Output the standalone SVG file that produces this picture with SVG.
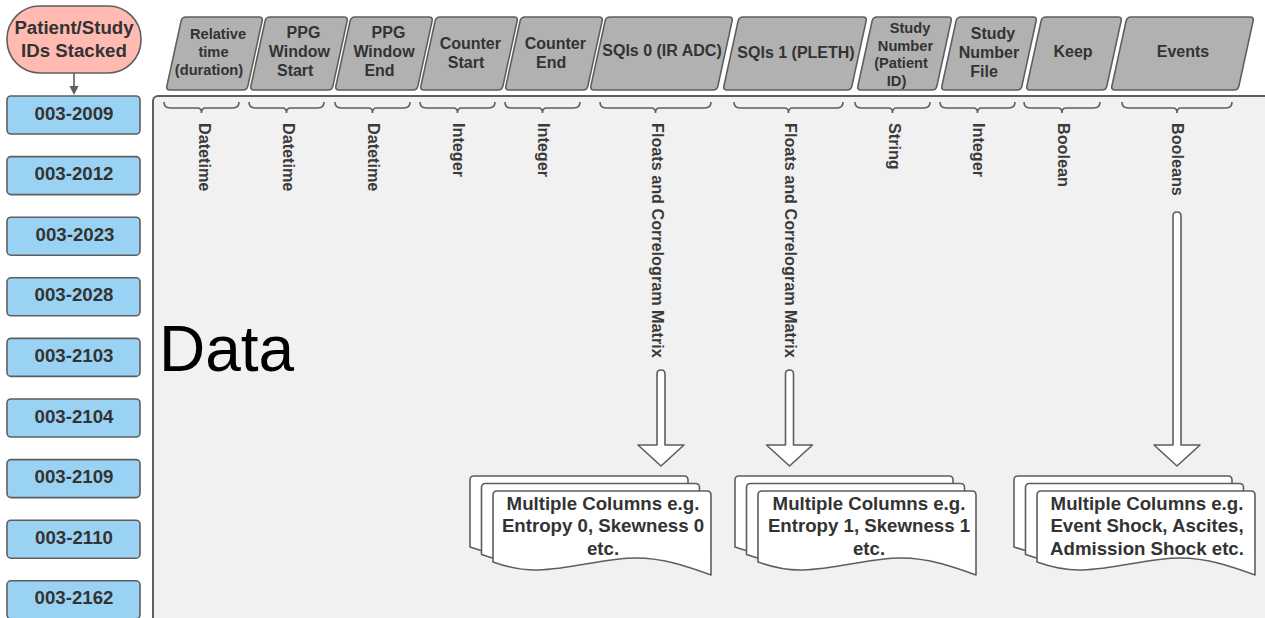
<svg xmlns="http://www.w3.org/2000/svg" width="1265" height="618" viewBox="0 0 1265 618">
<style>
text{font-family:"Liberation Sans",Arial,sans-serif;fill:#333333;font-weight:bold}
.hdr{fill:#b1b1b1;stroke:#5e5e5e;stroke-width:1.6}
.h16{font-size:16px;text-anchor:middle}
.h15{font-size:14.67px;text-anchor:middle}
.id{fill:#9ad2f4;stroke:#5e5e5e;stroke-width:1.6}
.idt{font-size:18.67px;text-anchor:middle}
.brace{fill:none;stroke:#5e5e5e;stroke-width:1.6}
.vl{font-size:16.2px;fill:#3a3a3a}
.blk{fill:#ffffff;stroke:#5e5e5e;stroke-width:1.6;stroke-linejoin:round}
.doc{fill:#ffffff;stroke:#5e5e5e;stroke-width:1.6;stroke-linejoin:round}
.dt{font-size:18.67px;text-anchor:middle}
</style>
<defs>
<path id="page" d="M0,4 Q0,0 4,0 H214 Q218,0 218,4 V84 C196,76 171,67 143,67 C111,67 80,78 45,79 C28,79.5 14,76 0,71 Z"/>
</defs>

<g id="data-panel">
<rect x="153" y="96" width="1130" height="540" rx="5" fill="#f1f1f1" stroke="#5e5e5e" stroke-width="2"/>
<text x="159" y="371" style="font-size:64px;font-weight:normal;fill:#000000">Data</text>
</g>

<g id="patient-ids">
<rect x="7" y="6" width="134" height="67" rx="33" fill="#ffbbb1" stroke="#5e5e5e" stroke-width="1.6"/>
<text class="idt" x="74" y="33.7">Patient/Study</text>
<text class="idt" x="74" y="56.7">IDs Stacked</text>
</g>

<g id="id-003-2009"><rect class="id" x="7" y="96" width="133" height="38" rx="4"/><text class="idt" x="74" y="119.5">003-2009</text></g>
<g id="id-003-2012"><rect class="id" x="7" y="156.6" width="133" height="38" rx="4"/><text class="idt" x="74" y="180.1">003-2012</text></g>
<g id="id-003-2023"><rect class="id" x="7" y="217.2" width="133" height="38" rx="4"/><text class="idt" x="75" y="240.7">003-2023</text></g>
<g id="id-003-2028"><rect class="id" x="7" y="277.8" width="133" height="38" rx="4"/><text class="idt" x="74" y="301.3">003-2028</text></g>
<g id="id-003-2103"><rect class="id" x="7" y="338.4" width="133" height="38" rx="4"/><text class="idt" x="74" y="361.9">003-2103</text></g>
<g id="id-003-2104"><rect class="id" x="7" y="399" width="133" height="38" rx="4"/><text class="idt" x="74" y="422.5">003-2104</text></g>
<g id="id-003-2109"><rect class="id" x="7" y="459.6" width="133" height="38" rx="4"/><text class="idt" x="74" y="483.1">003-2109</text></g>
<g id="id-003-2110"><rect class="id" x="7" y="520.2" width="133" height="38" rx="4"/><text class="idt" x="74" y="543.7">003-2110</text></g>
<g id="id-003-2162"><rect class="id" x="7" y="580.8" width="133" height="38" rx="4"/><text class="idt" x="74" y="604.3">003-2162</text></g>

<g id="hdr-relative-time">
<path class="hdr" d="M186,17 H259 Q263,17 262.14,20.91 L247.86,86.09 Q247,90 243,90 H170 Q166,90 166.86,86.09 L181.14,20.91 Q182,17 186,17 Z"/>
<text class="h15" x="218" y="39.3">Relative</text>
<text class="h15" x="213.5" y="57.3">time</text>
<text class="h15" x="209" y="75.3">(duration)</text>
</g>
<g id="hdr-ppg-start">
<path class="hdr" d="M270,17 H344 Q348,17 347.14,20.91 L332.86,86.09 Q332,90 328,90 H254 Q250,90 250.86,86.09 L265.14,20.91 Q266,17 270,17 Z"/>
<text class="h16" x="303.5" y="38">PPG</text>
<text class="h16" x="299.4" y="57.4">Window</text>
<text class="h16" x="295.2" y="76.4">Start</text>
</g>
<g id="hdr-ppg-end">
<path class="hdr" d="M355,17 H429 Q433,17 432.14,20.91 L417.86,86.09 Q417,90 413,90 H339 Q335,90 335.86,86.09 L350.14,20.91 Q351,17 355,17 Z"/>
<text class="h16" x="388.5" y="38">PPG</text>
<text class="h16" x="384" y="57.4">Window</text>
<text class="h16" x="379.5" y="76.4">End</text>
</g>
<g id="hdr-counter-start">
<path class="hdr" d="M440,17 H514 Q518,17 517.14,20.91 L502.86,86.09 Q502,90 498,90 H424 Q420,90 420.86,86.09 L435.14,20.91 Q436,17 440,17 Z"/>
<text class="h16" x="470.3" y="48.7">Counter</text>
<text class="h16" x="466.1" y="67.7">Start</text>
</g>
<g id="hdr-counter-end">
<path class="hdr" d="M525,17 H599 Q603,17 602.14,20.91 L587.86,86.09 Q587,90 583,90 H509 Q505,90 505.86,86.09 L520.14,20.91 Q521,17 525,17 Z"/>
<text class="h16" x="555.3" y="48.7">Counter</text>
<text class="h16" x="551.1" y="67.7">End</text>
</g>
<g id="hdr-sqis0">
<path class="hdr" d="M610,17 H729 Q733,17 732.14,20.91 L717.86,86.09 Q717,90 713,90 H594 Q590,90 590.86,86.09 L605.14,20.91 Q606,17 610,17 Z"/>
<text class="h16" x="662" y="55.7">SQIs 0 (IR ADC)</text>
</g>
<g id="hdr-sqis1">
<path class="hdr" d="M743,17 H863 Q867,17 866.14,20.91 L851.86,86.09 Q851,90 847,90 H727 Q723,90 723.86,86.09 L738.14,20.91 Q739,17 743,17 Z"/>
<text class="h16" x="796" y="57.7">SQIs 1 (PLETH)</text>
</g>
<g id="hdr-study-number">
<path class="hdr" d="M877,17 H948 Q952,17 951.14,20.91 L936.86,86.09 Q936,90 932,90 H861 Q857,90 857.86,86.09 L872.14,20.91 Q873,17 877,17 Z"/>
<text class="h15" x="910" y="33.3">Study</text>
<text class="h15" x="905.5" y="50.8">Number</text>
<text class="h15" x="901" y="68.3">(Patient</text>
<text class="h15" x="896.5" y="86.3">ID)</text>
</g>
<g id="hdr-study-number-file">
<path class="hdr" d="M961,17 H1033 Q1037,17 1036.14,20.91 L1021.86,86.09 Q1021,90 1017,90 H945 Q941,90 941.86,86.09 L956.14,20.91 Q957,17 961,17 Z"/>
<text class="h16" x="993" y="38.7">Study</text>
<text class="h16" x="989" y="57.7">Number</text>
<text class="h16" x="984" y="76.7">File</text>
</g>
<g id="hdr-keep">
<path class="hdr" d="M1046,17 H1118 Q1122,17 1121.14,20.91 L1106.86,86.09 Q1106,90 1102,90 H1030 Q1026,90 1026.86,86.09 L1041.14,20.91 Q1042,17 1046,17 Z"/>
<text class="h16" x="1073" y="56.7">Keep</text>
</g>
<g id="hdr-events">
<path class="hdr" d="M1131,17 H1250 Q1254,17 1253.14,20.91 L1238.86,86.09 Q1238,90 1234,90 H1115 Q1111,90 1111.86,86.09 L1126.14,20.91 Q1127,17 1131,17 Z"/>
<text class="h16" x="1183" y="56.7">Events</text>
</g>

<g id="braces">
<path class="brace" d="M164,102 Q164,108 170,108 H197.5 Q201.5,108 201.5,113 Q201.5,108 205.5,108 H233 Q239,108 239,102"/>
<path class="brace" d="M249,102 Q249,108 255,108 H282.5 Q286.5,108 286.5,113 Q286.5,108 290.5,108 H318 Q324,108 324,102"/>
<path class="brace" d="M335,102 Q335,108 341,108 H368.5 Q372.5,108 372.5,113 Q372.5,108 376.5,108 H404 Q410,108 410,102"/>
<path class="brace" d="M420,102 Q420,108 426,108 H453.5 Q457.5,108 457.5,113 Q457.5,108 461.5,108 H489 Q495,108 495,102"/>
<path class="brace" d="M505,102 Q505,108 511,108 H538.5 Q542.5,108 542.5,113 Q542.5,108 546.5,108 H574 Q580,108 580,102"/>
<path class="brace" d="M600,102 Q600,108 606,108 H651.5 Q655.5,108 655.5,113 Q655.5,108 659.5,108 H705 Q711,108 711,102"/>
<path class="brace" d="M734,102 Q734,108 740,108 H784.5 Q788.5,108 788.5,113 Q788.5,108 792.5,108 H837 Q843,108 843,102"/>
<path class="brace" d="M855,102 Q855,108 861,108 H888.5 Q892.5,108 892.5,113 Q892.5,108 896.5,108 H924 Q930,108 930,102"/>
<path class="brace" d="M940,102 Q940,108 946,108 H973.5 Q977.5,108 977.5,113 Q977.5,108 981.5,108 H1009 Q1015,108 1015,102"/>
<path class="brace" d="M1024,102 Q1024,108 1030,108 H1058 Q1062,108 1062,113 Q1062,108 1066,108 H1094 Q1100,108 1100,102"/>
<path class="brace" d="M1122,102 Q1122,108 1128,108 H1173 Q1177,108 1177,113 Q1177,108 1181,108 H1226 Q1232,108 1232,102"/>
</g>

<g id="type-labels">
<text class="vl" transform="translate(198.5,123) rotate(90)">Datetime</text>
<text class="vl" transform="translate(282.5,123) rotate(90)">Datetime</text>
<text class="vl" transform="translate(367.5,123) rotate(90)">Datetime</text>
<text class="vl" transform="translate(452.5,123) rotate(90)">Integer</text>
<text class="vl" transform="translate(537.5,123) rotate(90)">Integer</text>
<text class="vl" transform="translate(651.5,123) rotate(90)">Floats and Correlogram Matrix</text>
<text class="vl" transform="translate(784.5,123) rotate(90)">Floats and Correlogram Matrix</text>
<text class="vl" transform="translate(888.5,123) rotate(90)">String</text>
<text class="vl" transform="translate(973,123) rotate(90)">Integer</text>
<text class="vl" transform="translate(1057.5,123) rotate(90)">Boolean</text>
<text class="vl" transform="translate(1171.5,123) rotate(90)">Booleans</text>
</g>

<g id="doc-sqis0">
<use href="#page" class="doc" x="470" y="476"/>
<use href="#page" class="doc" x="481.5" y="483.5"/>
<use href="#page" class="doc" x="493" y="491"/>
<text class="dt" x="603" y="509.7">Multiple Columns e.g.</text>
<text class="dt" x="603" y="532.2">Entropy 0, Skewness 0</text>
<text class="dt" x="603" y="554.7">etc.</text>
</g>
<g id="doc-sqis1">
<use href="#page" class="doc" x="735" y="476"/>
<use href="#page" class="doc" x="746.5" y="483.5"/>
<use href="#page" class="doc" x="758" y="491"/>
<text class="dt" x="869" y="509.7">Multiple Columns e.g.</text>
<text class="dt" x="869" y="532.2">Entropy 1, Skewness 1</text>
<text class="dt" x="869" y="554.7">etc.</text>
</g>
<g id="doc-events">
<use href="#page" class="doc" x="1014" y="476"/>
<use href="#page" class="doc" x="1025.5" y="483.5"/>
<use href="#page" class="doc" x="1037" y="491"/>
<text class="dt" x="1147" y="509.7">Multiple Columns e.g.</text>
<text class="dt" x="1147" y="532.2">Event Shock, Ascites,</text>
<text class="dt" x="1147" y="554.7">Admission Shock etc.</text>
</g>

<g id="connectors">
<line x1="74" y1="73" x2="74" y2="87" stroke="#5e5e5e" stroke-width="1.6"/>
<polygon points="69.5,86 78.5,86 74,95" fill="#5e5e5e"/>
<path class="blk" d="M657,374 Q657,370 661,370 Q665,370 665,374 V445 H684 L661,466 L638,445 H657 Z"/>
<path class="blk" d="M785.5,374 Q785.5,370 789.5,370 Q793.5,370 793.5,374 V445 H812.5 L789.5,466 L766.5,445 H785.5 Z"/>
<path class="blk" d="M1173,216 Q1173,212 1177,212 Q1181,212 1181,216 V445 H1200 L1177,466 L1154,445 H1173 Z"/>
</g>
</svg>
